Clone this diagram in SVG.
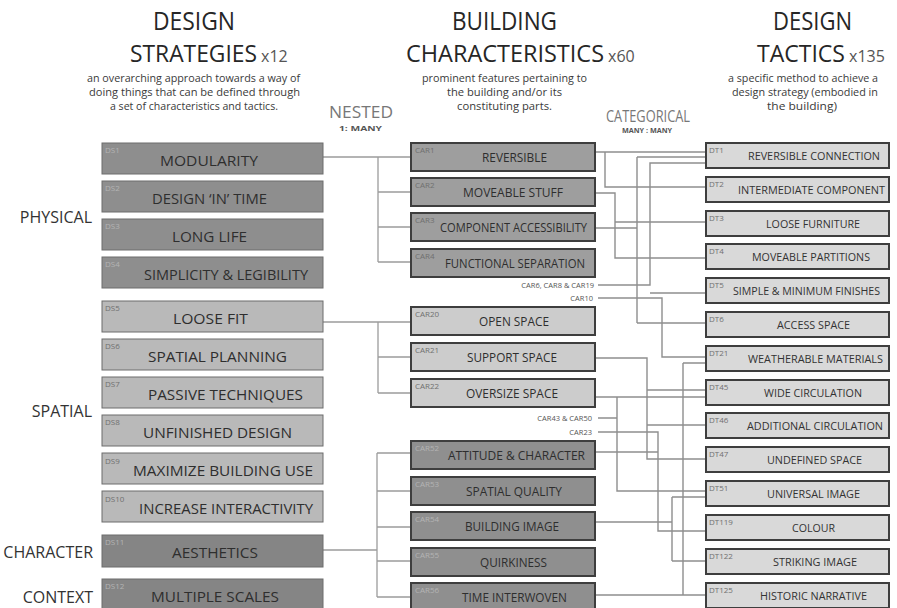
<svg xmlns="http://www.w3.org/2000/svg" width="897" height="608" viewBox="0 0 897 608">
<style>
text{font-family:"Open Sans","Noto Sans",sans-serif;}
.h{font-size:23px;fill:#262626;}
.hx{font-size:16px;fill:#555;}
.sub{font-size:11px;fill:#3a3a3a;}
.cat{font-size:16px;fill:#333;text-anchor:end;}
.rel{font-size:16px;fill:#777;}
.rels{font-size:7px;fill:#555;font-weight:bold;}
.dsr{stroke:#6c6c6c;stroke-width:1;}
.dA{fill:#8e8e8e}
.dB{fill:#b9b9b9}
.dC{fill:#858585}
.dt{font-size:15px;fill:#2e2e2e;}
.lblD{font-size:8px;fill:#b4b4b4;}
.lblL{font-size:8px;fill:#707070;}
.cr{stroke:#3e3e3e;stroke-width:2;}
.cA{fill:#9e9e9e}
.cB{fill:#cccccc}
.cC{fill:#8f8f8f}
.ct{font-size:12px;fill:#2e2e2e;}
.tr{stroke:#3e3e3e;stroke-width:2;fill:#d9d9d9;}
.tt{font-size:11px;fill:#333;}
.sm{font-size:7.5px;fill:#555;text-anchor:end;}
.c{fill:none;stroke:#8e8e8e;stroke-width:1.4;}
.cl{fill:none;stroke:#9c9c9c;stroke-width:1.3;}
</style>

<g id="headers">
<text class="h" x="153" y="30" textLength="82" lengthAdjust="spacingAndGlyphs" style="font-size:25px">DESIGN</text>
<text y="62"><tspan class="h" x="130" textLength="127" lengthAdjust="spacingAndGlyphs">STRATEGIES</tspan><tspan class="hx" x="261">x12</tspan></text>
<text class="sub" x="87" y="82" textLength="213" lengthAdjust="spacingAndGlyphs">an overarching approach towards a way of</text>
<text class="sub" x="89" y="96" textLength="211" lengthAdjust="spacingAndGlyphs">doing things  that can be defined through</text>
<text class="sub" x="110" y="110" textLength="168" lengthAdjust="spacingAndGlyphs">a set of characteristics and tactics.</text>

<text class="h" x="452" y="30" textLength="105" lengthAdjust="spacingAndGlyphs" style="font-size:25px">BUILDING</text>
<text y="62"><tspan class="h" x="406" textLength="198" lengthAdjust="spacingAndGlyphs">CHARACTERISTICS</tspan><tspan class="hx" x="608">x60</tspan></text>
<text class="sub" x="422" y="82" textLength="165" lengthAdjust="spacingAndGlyphs">prominent features pertaining to</text>
<text class="sub" x="447" y="96" textLength="115" lengthAdjust="spacingAndGlyphs">the building and/or its</text>
<text class="sub" x="457" y="110" textLength="95" lengthAdjust="spacingAndGlyphs">constituting parts.</text>

<text class="h" x="773" y="30" textLength="79" lengthAdjust="spacingAndGlyphs" style="font-size:25px">DESIGN</text>
<text y="62"><tspan class="h" x="757" textLength="88" lengthAdjust="spacingAndGlyphs">TACTICS</tspan><tspan class="hx" x="849">x135</tspan></text>
<text class="sub" x="728" y="82" textLength="150" lengthAdjust="spacingAndGlyphs">a specific method to achieve a</text>
<text class="sub" x="732" y="96" textLength="146" lengthAdjust="spacingAndGlyphs">design strategy (embodied in</text>
<text class="sub" x="767" y="110" textLength="70" lengthAdjust="spacingAndGlyphs">the building)</text>

<text class="rel" x="329" y="118" textLength="64" lengthAdjust="spacingAndGlyphs">NESTED</text>
<text class="rels" x="339" y="131" textLength="43" lengthAdjust="spacingAndGlyphs">1: MANY</text>
<text class="rel" x="606" y="122" textLength="84" lengthAdjust="spacingAndGlyphs">CATEGORICAL</text>
<text class="rels" x="622" y="133" textLength="50" lengthAdjust="spacingAndGlyphs">MANY : MANY</text>
</g>

<g id="categories">
<text class="cat" x="92" y="223">PHYSICAL</text>
<text class="cat" x="92" y="417">SPATIAL</text>
<text class="cat" x="93" y="558">CHARACTER</text>
<text class="cat" x="93" y="603">CONTEXT</text>
</g>

<g id="connectors">
<path class="cl" d="M323 157H411 M378 157V262 M378 192H411 M378 227H411 M378 262H411"/>
<path class="cl" d="M323 322H411 M378 322V393 M378 357H411 M378 393H411"/>
<path class="cl" d="M323 550H377 M377 453V597 M377 453H411 M377 491H411 M377 527H411 M377 561H411 M377 597H411"/>

<path class="c" d="M595 152H706 M605 152V187H706"/>
<path class="c" d="M595 193H615V258H706 M615 222H706"/>
<path class="c" d="M595 228H637 M637 157V323 M637 157H706 M637 323H706"/>
<path class="c" d="M598 285H650V163H706"/>
<path class="c" d="M650 293H706"/>
<path class="c" d="M598 298H662V357H706"/>
<path class="c" d="M595 358H647V459H706 M647 390H706 M647 425H706"/>
<path class="c" d="M595 397H706 M617 397V491H706 M598 418H617"/>
<path class="c" d="M598 432H658V531H706 M595 452H658"/>
<path class="c" d="M595 522H672 M672 497V561 M672 497H706 M672 561H706"/>
<path class="c" d="M595 595H706 M683 363V595 M683 363H706"/>
<text class="sm" x="594" y="288">CAR6, CAR8 &amp; CAR19</text>
<text class="sm" x="593" y="301">CAR10</text>
<text class="sm" x="592" y="421">CAR43 &amp; CAR50</text>
<text class="sm" x="592" y="435">CAR23</text>
</g>

<g id="DS1"><rect class="dsr dA" x="102" y="143" width="221" height="31"/><text class="lblD" x="105" y="153">DS1</text><text class="dt" x="160" y="166" textLength="98" lengthAdjust="spacingAndGlyphs">MODULARITY</text></g>
<g id="DS2"><rect class="dsr dA" x="102" y="181" width="221" height="31"/><text class="lblD" x="105" y="191">DS2</text><text class="dt" x="152" y="204" textLength="115" lengthAdjust="spacingAndGlyphs">DESIGN ‘IN’ TIME</text></g>
<g id="DS3"><rect class="dsr dA" x="102" y="219" width="221" height="31"/><text class="lblD" x="105" y="229">DS3</text><text class="dt" x="172" y="242" textLength="75" lengthAdjust="spacingAndGlyphs">LONG LIFE</text></g>
<g id="DS4"><rect class="dsr dA" x="102" y="257" width="221" height="31"/><text class="lblD" x="105" y="267">DS4</text><text class="dt" x="144" y="280" textLength="164" lengthAdjust="spacingAndGlyphs">SIMPLICITY &amp; LEGIBILITY</text></g>
<g id="DS5"><rect class="dsr dB" x="102" y="301" width="221" height="31"/><text class="lblL" x="105" y="311">DS5</text><text class="dt" x="173" y="324" textLength="75" lengthAdjust="spacingAndGlyphs">LOOSE FIT</text></g>
<g id="DS6"><rect class="dsr dB" x="102" y="339" width="221" height="31"/><text class="lblL" x="105" y="349">DS6</text><text class="dt" x="148" y="362" textLength="139" lengthAdjust="spacingAndGlyphs">SPATIAL PLANNING</text></g>
<g id="DS7"><rect class="dsr dB" x="102" y="377" width="221" height="31"/><text class="lblL" x="105" y="387">DS7</text><text class="dt" x="148" y="400" textLength="155" lengthAdjust="spacingAndGlyphs">PASSIVE TECHNIQUES</text></g>
<g id="DS8"><rect class="dsr dB" x="102" y="415" width="221" height="31"/><text class="lblL" x="105" y="425">DS8</text><text class="dt" x="143" y="438" textLength="149" lengthAdjust="spacingAndGlyphs">UNFINISHED DESIGN</text></g>
<g id="DS9"><rect class="dsr dB" x="102" y="453" width="221" height="31"/><text class="lblL" x="105" y="464">DS9</text><text class="dt" x="133" y="476" textLength="180" lengthAdjust="spacingAndGlyphs">MAXIMIZE BUILDING USE</text></g>
<g id="DS10"><rect class="dsr dB" x="102" y="491" width="221" height="31"/><text class="lblL" x="105" y="502">DS10</text><text class="dt" x="139" y="514" textLength="174" lengthAdjust="spacingAndGlyphs">INCREASE INTERACTIVITY</text></g>
<g id="DS11"><rect class="dsr dC" x="102" y="535" width="221" height="32"/><text class="lblD" x="105" y="545">DS11</text><text class="dt" x="172" y="558" textLength="86" lengthAdjust="spacingAndGlyphs">AESTHETICS</text></g>
<g id="DS12"><rect class="dsr dC" x="102" y="579" width="221" height="32"/><text class="lblD" x="105" y="589">DS12</text><text class="dt" x="151" y="602" textLength="128" lengthAdjust="spacingAndGlyphs">MULTIPLE SCALES</text></g>

<g id="CAR1"><rect class="cr cA" x="411" y="143" width="184" height="28"/><text class="lblL" x="415" y="153">CAR1</text><text class="ct" x="482" y="162" textLength="65" lengthAdjust="spacingAndGlyphs">REVERSIBLE</text></g>
<g id="CAR2"><rect class="cr cA" x="411" y="178" width="184" height="28"/><text class="lblL" x="415" y="188">CAR2</text><text class="ct" x="463" y="197" textLength="100" lengthAdjust="spacingAndGlyphs">MOVEABLE STUFF</text></g>
<g id="CAR3"><rect class="cr cA" x="411" y="213" width="184" height="28"/><text class="lblL" x="415" y="223">CAR3</text><text class="ct" x="440" y="232" textLength="147" lengthAdjust="spacingAndGlyphs">COMPONENT ACCESSIBILITY</text></g>
<g id="CAR4"><rect class="cr cA" x="411" y="249" width="184" height="28"/><text class="lblL" x="415" y="259">CAR4</text><text class="ct" x="445" y="268" textLength="140" lengthAdjust="spacingAndGlyphs">FUNCTIONAL SEPARATION</text></g>
<g id="CAR20"><rect class="cr cB" x="411" y="307" width="184" height="28"/><text class="lblL" x="415" y="317">CAR20</text><text class="ct" x="479" y="326" textLength="70" lengthAdjust="spacingAndGlyphs">OPEN SPACE</text></g>
<g id="CAR21"><rect class="cr cB" x="411" y="343" width="184" height="28"/><text class="lblL" x="415" y="353">CAR21</text><text class="ct" x="467" y="362" textLength="90" lengthAdjust="spacingAndGlyphs">SUPPORT SPACE</text></g>
<g id="CAR22"><rect class="cr cB" x="411" y="379" width="184" height="28"/><text class="lblL" x="415" y="389">CAR22</text><text class="ct" x="466" y="398" textLength="92" lengthAdjust="spacingAndGlyphs">OVERSIZE SPACE</text></g>
<g id="CAR52"><rect class="cr cC" x="411" y="441" width="184" height="28"/><text class="lblD" x="415" y="451">CAR52</text><text class="ct" x="448" y="460" textLength="137" lengthAdjust="spacingAndGlyphs">ATTITUDE &amp; CHARACTER</text></g>
<g id="CAR53"><rect class="cr cC" x="411" y="477" width="184" height="28"/><text class="lblD" x="415" y="487">CAR53</text><text class="ct" x="466" y="496" textLength="96" lengthAdjust="spacingAndGlyphs">SPATIAL QUALITY</text></g>
<g id="CAR54"><rect class="cr cC" x="411" y="512" width="184" height="28"/><text class="lblD" x="415" y="522">CAR54</text><text class="ct" x="465" y="531" textLength="94" lengthAdjust="spacingAndGlyphs">BUILDING IMAGE</text></g>
<g id="CAR55"><rect class="cr cC" x="411" y="548" width="184" height="28"/><text class="lblD" x="415" y="558">CAR55</text><text class="ct" x="480" y="567" textLength="67" lengthAdjust="spacingAndGlyphs">QUIRKINESS</text></g>
<g id="CAR56"><rect class="cr cC" x="411" y="583" width="184" height="28"/><text class="lblD" x="415" y="593">CAR56</text><text class="ct" x="462" y="602" textLength="105" lengthAdjust="spacingAndGlyphs">TIME INTERWOVEN</text></g>

<g id="DT1"><rect class="tr" x="706" y="143" width="183" height="25"/><text class="lblL" x="709" y="153">DT1</text><text class="tt" x="748" y="160" textLength="132" lengthAdjust="spacingAndGlyphs">REVERSIBLE CONNECTION</text></g>
<g id="DT2"><rect class="tr" x="706" y="177" width="183" height="25"/><text class="lblL" x="709" y="187">DT2</text><text class="tt" x="738" y="194" textLength="147" lengthAdjust="spacingAndGlyphs">INTERMEDIATE COMPONENT</text></g>
<g id="DT3"><rect class="tr" x="706" y="211" width="183" height="25"/><text class="lblL" x="709" y="221">DT3</text><text class="tt" x="766" y="228" textLength="94" lengthAdjust="spacingAndGlyphs">LOOSE FURNITURE</text></g>
<g id="DT4"><rect class="tr" x="706" y="244" width="183" height="25"/><text class="lblL" x="709" y="254">DT4</text><text class="tt" x="752" y="261" textLength="118" lengthAdjust="spacingAndGlyphs">MOVEABLE PARTITIONS</text></g>
<g id="DT5"><rect class="tr" x="706" y="278" width="183" height="25"/><text class="lblL" x="709" y="288">DT5</text><text class="tt" x="733" y="295" textLength="147" lengthAdjust="spacingAndGlyphs">SIMPLE &amp; MINIMUM FINISHES</text></g>
<g id="DT6"><rect class="tr" x="706" y="312" width="183" height="25"/><text class="lblL" x="709" y="322">DT6</text><text class="tt" x="777" y="329" textLength="73" lengthAdjust="spacingAndGlyphs">ACCESS SPACE</text></g>
<g id="DT21"><rect class="tr" x="706" y="346" width="183" height="25"/><text class="lblL" x="709" y="356">DT21</text><text class="tt" x="748" y="363" textLength="135" lengthAdjust="spacingAndGlyphs">WEATHERABLE MATERIALS</text></g>
<g id="DT45"><rect class="tr" x="706" y="380" width="183" height="25"/><text class="lblL" x="709" y="390">DT45</text><text class="tt" x="764" y="397" textLength="98" lengthAdjust="spacingAndGlyphs">WIDE CIRCULATION</text></g>
<g id="DT46"><rect class="tr" x="706" y="413" width="183" height="25"/><text class="lblL" x="709" y="423">DT46</text><text class="tt" x="747" y="430" textLength="136" lengthAdjust="spacingAndGlyphs">ADDITIONAL CIRCULATION</text></g>
<g id="DT47"><rect class="tr" x="706" y="447" width="183" height="25"/><text class="lblL" x="709" y="457">DT47</text><text class="tt" x="767" y="464" textLength="95" lengthAdjust="spacingAndGlyphs">UNDEFINED SPACE</text></g>
<g id="DT51"><rect class="tr" x="706" y="481" width="183" height="25"/><text class="lblL" x="709" y="491">DT51</text><text class="tt" x="767" y="498" textLength="93" lengthAdjust="spacingAndGlyphs">UNIVERSAL IMAGE</text></g>
<g id="DT119"><rect class="tr" x="706" y="515" width="183" height="25"/><text class="lblL" x="709" y="525">DT119</text><text class="tt" x="792" y="532" textLength="43" lengthAdjust="spacingAndGlyphs">COLOUR</text></g>
<g id="DT122"><rect class="tr" x="706" y="549" width="183" height="25"/><text class="lblL" x="709" y="559">DT122</text><text class="tt" x="773" y="566" textLength="84" lengthAdjust="spacingAndGlyphs">STRIKING IMAGE</text></g>
<g id="DT125"><rect class="tr" x="706" y="583" width="183" height="25"/><text class="lblL" x="709" y="593">DT125</text><text class="tt" x="760" y="600" textLength="107" lengthAdjust="spacingAndGlyphs">HISTORIC NARRATIVE</text></g>
</svg>
